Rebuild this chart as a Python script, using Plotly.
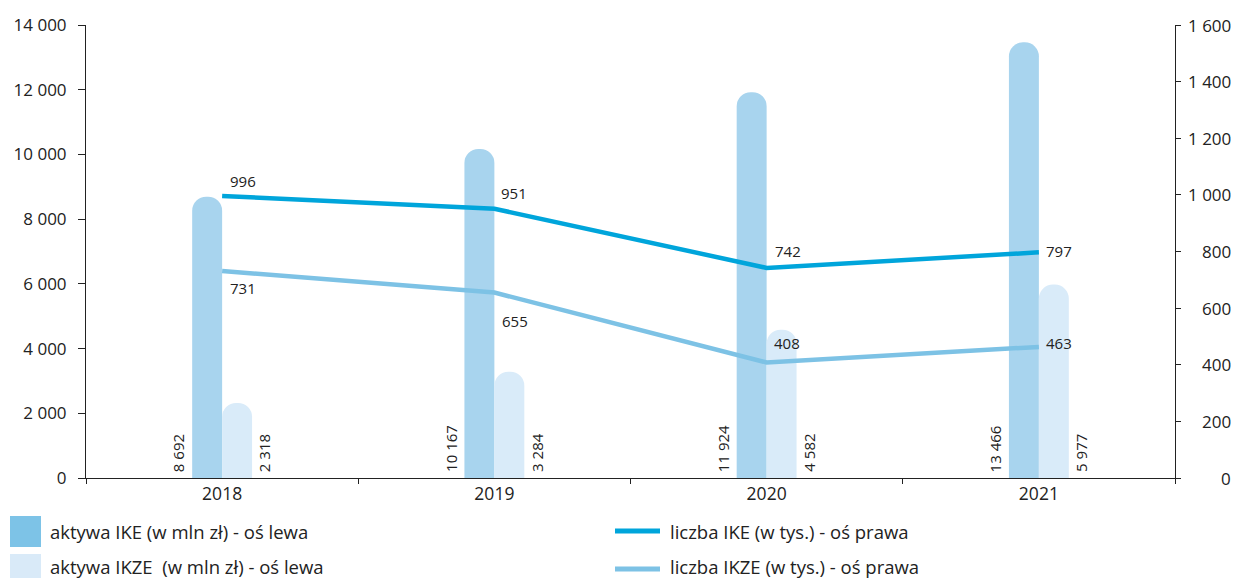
import plotly.graph_objects as go

# --- data ---------------------------------------------------------------
years = ["2018", "2019", "2020", "2021"]
aktywa_ike = [8692, 10167, 11924, 13466]      # mln zł, left axis
aktywa_ikze = [2318, 3284, 4582, 5977]        # mln zł, left axis
liczba_ike = [996, 951, 742, 797]             # tys., right axis
liczba_ikze = [731, 655, 408, 463]            # tys., right axis

left_ticks = [0, 2000, 4000, 6000, 8000, 10000, 12000, 14000]
right_ticks = [0, 200, 400, 600, 800, 1000, 1200, 1400, 1600]

legend_labels = [
    "aktywa IKE (w mln zł) - oś lewa",
    "aktywa IKZE  (w mln zł) - oś lewa",
    "liczba IKE (w tys.) - oś prawa",
    "liczba IKZE (w tys.) - oś prawa",
]

# --- styles -------------------------------------------------------------
FONT = "Open Sans"
TXT = "#222222"
AX = "#222222"
C_IKE_BAR = "#A8D4EE"
C_IKZE_BAR = "#D9EBF9"
C_IKE_LEG = "#7DC3E7"
C_IKZE_LEG = "#D9EAF8"
C_IKE_LINE = "#00A5DB"
C_IKZE_LINE = "#7DC2E5"

W, H = 1236, 578
ML, MR, MT, MB = 86, 61, 25, 100
PW, PH = W - ML - MR, H - MT - MB


def fmt(v):
    return f"{v:,}".replace(",", " ")


def px_x(p):
    return (p - ML) / PW


def px_y(p):
    return (H - MB - p) / PH


fig = go.Figure()

fig.add_trace(go.Bar(x=years, y=aktywa_ike, marker=dict(color=C_IKE_BAR, line_width=0, cornerradius=14),
                     name=legend_labels[0]))
fig.add_trace(go.Bar(x=years, y=aktywa_ikze, marker=dict(color=C_IKZE_BAR, line_width=0, cornerradius=14),
                     name=legend_labels[1]))
fig.add_trace(go.Scatter(x=years, y=liczba_ike, yaxis="y2", mode="lines",
                         line=dict(color=C_IKE_LINE, width=4.5), name=legend_labels[2]))
fig.add_trace(go.Scatter(x=years, y=liczba_ikze, yaxis="y2", mode="lines",
                         line=dict(color=C_IKZE_LINE, width=4.5), name=legend_labels[3]))

annotations = []
VAL_FONT = dict(family=FONT, size=15, color=TXT)

# vertical value labels beside the bars (category index used as x position)
for i, v in enumerate(aktywa_ike):
    annotations.append(dict(x=i, y=0, xref="x", yref="y", text=fmt(v), textangle=-90,
                            xanchor="center", yanchor="bottom", xshift=-44, yshift=4,
                            showarrow=False, font=VAL_FONT))
for i, v in enumerate(aktywa_ikze):
    annotations.append(dict(x=i, y=0, xref="x", yref="y", text=fmt(v), textangle=-90,
                            xanchor="center", yanchor="bottom", xshift=42, yshift=4,
                            showarrow=False, font=VAL_FONT))

# line point labels (pixel offsets from each point)
ike_off = [(21, 15), (20, 16), (21, 17), (20, 1)]
ikze_off = [(21, -17), (21, -28), (20, 19), (20, 4)]
for vals, offs in ((liczba_ike, ike_off), (liczba_ikze, ikze_off)):
    for i, (v, (dx, dy)) in enumerate(zip(vals, offs)):
        annotations.append(dict(x=i, y=v, xref="x", yref="y2", text=fmt(v),
                                xanchor="center", yanchor="middle", xshift=dx, yshift=dy,
                                showarrow=False, font=VAL_FONT))

# right axis labels, right-aligned
for t in right_ticks:
    annotations.append(dict(x=1, y=t, xref="paper", yref="y2", text=fmt(t),
                            xanchor="right", yanchor="middle", xshift=58,
                            showarrow=False, font=dict(family=FONT, size=17, color=TXT)))

# legend
shapes = []
shapes.append(dict(type="rect", xref="paper", yref="paper", x0=px_x(10), x1=px_x(41),
                   y0=px_y(547), y1=px_y(516), fillcolor=C_IKE_LEG, line_width=0))
shapes.append(dict(type="rect", xref="paper", yref="paper", x0=px_x(10), x1=px_x(41),
                   y0=px_y(585), y1=px_y(554), fillcolor=C_IKZE_LEG, line_width=0))
shapes.append(dict(type="line", xref="paper", yref="paper", x0=px_x(615), x1=px_x(660),
                   y0=px_y(531), y1=px_y(531), line=dict(color=C_IKE_LINE, width=5)))
shapes.append(dict(type="line", xref="paper", yref="paper", x0=px_x(615), x1=px_x(660),
                   y0=px_y(569), y1=px_y(569), line=dict(color=C_IKZE_LINE, width=5)))

for label, (lx, ly) in zip(legend_labels, [(48, 531), (48, 566), (668, 531), (668, 566)]):
    annotations.append(dict(x=px_x(lx), y=px_y(ly), xref="paper", yref="paper", text=label,
                            xanchor="left", yanchor="middle", showarrow=False,
                            font=dict(family=FONT, size=18.5, color=TXT)))

fig.update_layout(
    width=W, height=H,
    margin=dict(l=ML, r=MR, t=MT, b=MB, pad=0),
    paper_bgcolor="white", plot_bgcolor="white",
    barmode="group", bargap=0.78, bargroupgap=0,
    showlegend=False,
    separators=", ",
    font=dict(family=FONT, size=17, color=TXT),
    xaxis=dict(type="category", range=[-0.5, 3.5], showline=True, linecolor=AX, linewidth=1,
               ticks="outside", tickson="boundaries", ticklen=5, tickcolor=AX,
               showgrid=False, zeroline=False, tickfont=dict(family=FONT, size=17.5, color=TXT)),
    yaxis=dict(range=[0, 14000], tickvals=left_ticks, ticktext=[fmt(t) for t in left_ticks],
               showline=True, linecolor=AX, linewidth=1, ticks="outside", ticklen=7, tickcolor=AX,
               showgrid=False, zeroline=False, ticklabelstandoff=8,
               tickfont=dict(family=FONT, size=17, color=TXT)),
    yaxis2=dict(range=[0, 1600], tickvals=right_ticks, overlaying="y", side="right",
                showline=True, linecolor=AX, linewidth=1, ticks="outside", ticklen=5, tickcolor=AX,
                showgrid=False, zeroline=False, showticklabels=False),
    annotations=annotations,
    shapes=shapes,
)

fig.write_html("out.html")
